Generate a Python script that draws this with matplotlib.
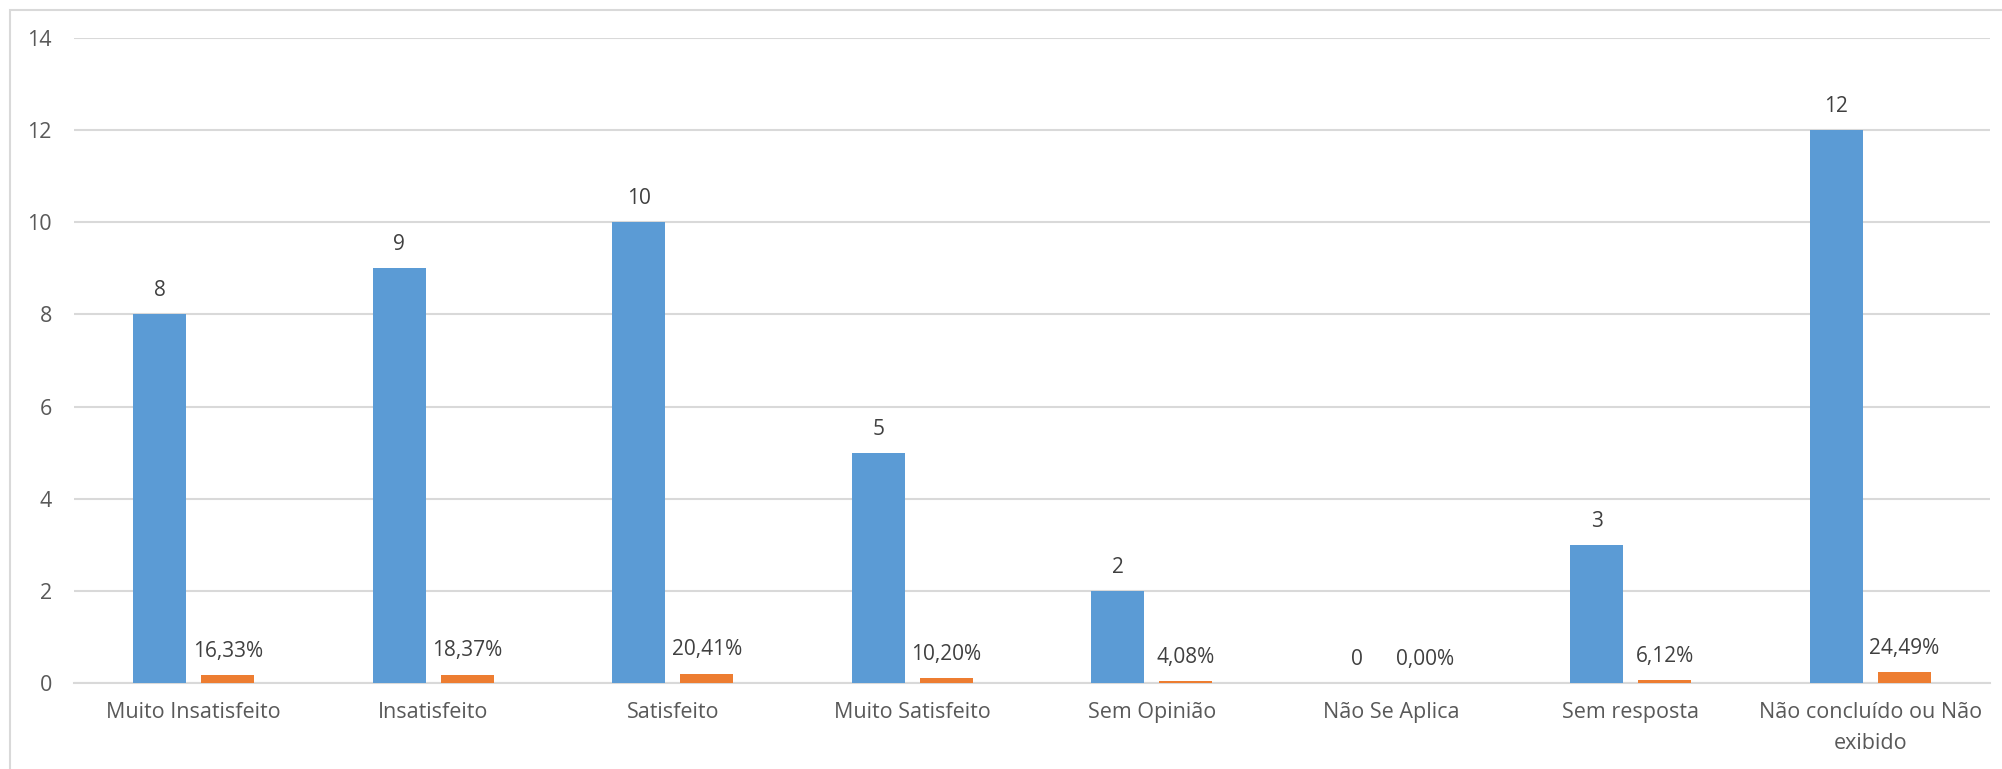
import matplotlib
matplotlib.use("Agg")
import matplotlib.pyplot as plt
from matplotlib.patches import Rectangle

categories = ["Muito Insatisfeito", "Insatisfeito", "Satisfeito", "Muito Satisfeito",
              "Sem Opinião", "Não Se Aplica", "Sem resposta", "Não concluído ou Não\nexibido"]
counts = [8, 9, 10, 5, 2, 0, 3, 12]
percents = [0.1633, 0.1837, 0.2041, 0.1020, 0.0408, 0.0, 0.0612, 0.2449]
yticks = [0, 2, 4, 6, 8, 10, 12, 14]

plt.rcParams['font.family'] = ['Open Sans', 'DejaVu Sans']

W, H = 2002, 769
fig = plt.figure(figsize=(W / 100, H / 100), dpi=100)
ax = fig.add_axes([74 / W, 1 - 683 / H, (1990 - 74) / W, (683 - 38) / H])

blue = "#5B9BD5"
orange = "#ED7D31"
bw = 0.221
off = 0.142
x = list(range(len(categories)))

ax.bar([i - off for i in x], counts, width=bw, color=blue, zorder=3)
ax.bar([i + off for i in x], percents, width=bw, color=orange, zorder=3)

for i, v in enumerate(counts):
    ax.annotate(f"{v}", (i - off, v), xytext=(0, 17), textcoords="offset points",
                ha="center", va="center", fontsize=15, color="#404040")
for i, p in enumerate(percents):
    s = f"{p * 100:.2f}%".replace(".", ",")
    ax.annotate(s, (i + off, p), xytext=(0, 17), textcoords="offset points",
                ha="center", va="center", fontsize=15, color="#404040")

ax.set_xlim(-0.5, len(categories) - 0.5)
ax.set_ylim(0, 14)
ax.set_yticks(yticks)
ax.set_yticklabels([str(t) for t in yticks], fontsize=15.5, color="#595959")
ax.set_xticks(x)
ax.set_xticklabels(categories, fontsize=15.5, color="#595959", linespacing=1.6, va="top")
ax.tick_params(axis="both", length=0)
ax.tick_params(axis="y", pad=16)
ax.tick_params(axis="x", pad=14)
ax.grid(axis="y", color="#d9d9d9", lw=1.5, zorder=0)
for s in ["top", "right", "left"]:
    ax.spines[s].set_visible(False)
ax.spines["bottom"].set_color("#d9d9d9")
ax.spines["bottom"].set_linewidth(1.5)

fig.patches.append(Rectangle((10 / W, -0.5), 2, 1.5 - 10 / H, transform=fig.transFigure,
                             fill=False, edgecolor="#d9d9d9", lw=1.5))

fig.savefig("out.png", dpi=100)
